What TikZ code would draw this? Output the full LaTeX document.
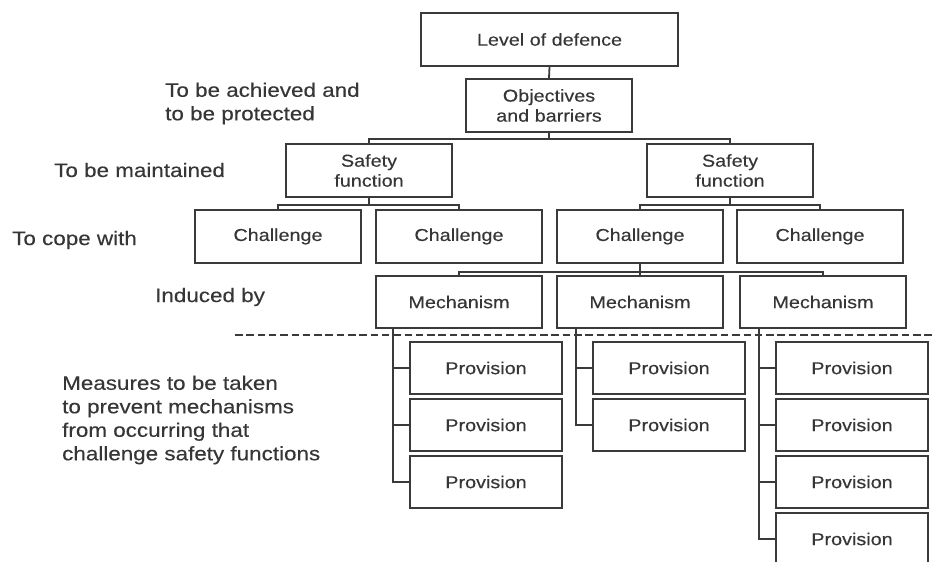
\documentclass[tikz,border=0pt]{standalone}
\usepackage{fontspec}
\setmainfont[FakeStretch=1.15,FakeBold=0.3]{Liberation Sans}
\definecolor{linegray}{HTML}{3A3A3A}
\definecolor{txtgray}{HTML}{363636}
\begin{document}
\begin{tikzpicture}[x=1pt,y=-1pt,
  box/.style={draw=linegray, line width=2pt, minimum width=166pt, minimum height=53pt,
    inner sep=0pt, text=txtgray, align=center, font=\fontsize{17.2}{20}\selectfont},
  provbox/.style={box, minimum width=152pt, minimum height=52pt},
  lbl/.style={anchor=west, inner sep=0pt, text=txtgray, align=left,
    font=\fontsize{19.5}{23.5}\selectfont},
  link/.style={draw=linegray, line width=1.8pt},
  divider/.style={draw=linegray, line width=1.8pt, dash pattern=on 7.5pt off 3.8pt},
]
\useasboundingbox (0,0) rectangle (935,562);
\clip (0,0) rectangle (935,562);

% tree of boxes
\node[box, minimum width=257pt] (lod) at (549.5,39.5) {Level of defence};
\node[box] (obj) at (549,105.5) {Objectives\\and barriers};
\node[box] (sf1) at (369,170.5) {Safety\\function};
\node[box] (sf2) at (730,170.5) {Safety\\function};
\node[box] (ch1) at (278,236.5) {Challenge};
\node[box] (ch2) at (459,236.5) {Challenge};
\node[box] (ch3) at (640,236.5) {Challenge};
\node[box] (ch4) at (820,236.5) {Challenge};
\node[box, minimum height=52pt] (me1) at (459,302) {Mechanism};
\node[box, minimum height=52pt] (me2) at (640,302) {Mechanism};
\node[box, minimum height=52pt] (me3) at (823,302) {Mechanism};

% provisions
\node[provbox] (p11) at (486,368) {Provision};
\node[provbox] (p12) at (486,425) {Provision};
\node[provbox] (p13) at (486,482) {Provision};
\node[provbox] (p21) at (669,368) {Provision};
\node[provbox] (p22) at (669,425) {Provision};
\node[provbox] (p31) at (852,368) {Provision};
\node[provbox] (p32) at (852,425) {Provision};
\node[provbox] (p33) at (852,482) {Provision};
\node[provbox] (p34) at (852,539) {Provision};

% bus junctions
\coordinate (b0) at (549,139);
\coordinate (b1) at (369,205);
\coordinate (b2) at (730,205);
\coordinate (b3) at (640,272);

\draw[link] (lod.south) -- (obj.north);
\draw[link] (obj.south) -- (b0);
\draw[link] (sf1.north) |- (b0) -| (sf2.north);
\draw[link] (sf1.south) -- (b1);
\draw[link] (ch1.north) |- (b1) -| (ch2.north);
\draw[link] (sf2.south) -- (b2);
\draw[link] (ch3.north) |- (b2) -| (ch4.north);
\draw[link] (ch3.south) -- (me2.north);
\draw[link] (me1.north) |- (b3) -| (me3.north);

% provision rails
\coordinate (v1) at ([xshift=18pt]me1.south west);
\coordinate (v2) at ([xshift=20pt]me2.south west);
\coordinate (v3) at ([xshift=20pt]me3.south west);
\draw[link] (v1) |- (p13.west);
\draw[link] (p11.west) -- (p11.west -| v1);
\draw[link] (p12.west) -- (p12.west -| v1);
\draw[link] (v2) |- (p22.west);
\draw[link] (p21.west) -- (p21.west -| v2);
\draw[link] (v3) |- (p34.west);
\draw[link] (p31.west) -- (p31.west -| v3);
\draw[link] (p32.west) -- (p32.west -| v3);
\draw[link] (p33.west) -- (p33.west -| v3);

% dashed separator
\coordinate (d0) at (235,335);
\coordinate (d1) at (935,335);
\draw[divider] (d0) -- (d1);

% level labels
\node[lbl] (l1) at (165,103.5) {To be achieved and\\to be protected};
\node[lbl] (l2) at (54,170) {To be maintained};
\node[lbl] (l3) at (12,240) {To cope with};
\node[lbl] (l4) at (155,297) {Induced by};
\node[lbl] (l5) at (62,420) {Measures to be taken\\to prevent mechanisms\\from occurring that\\challenge safety functions};
\end{tikzpicture}
\end{document}
